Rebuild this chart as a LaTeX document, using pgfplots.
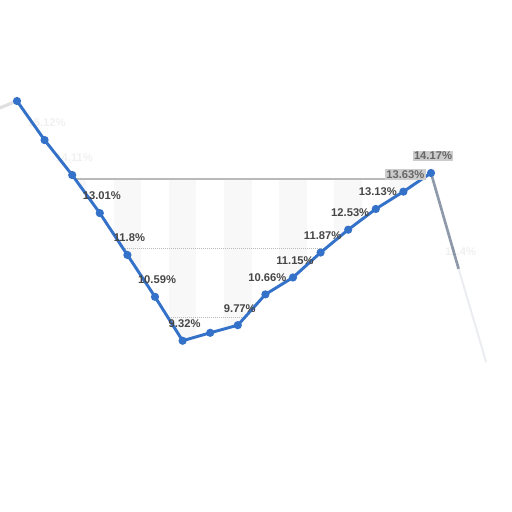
\documentclass[border=0pt]{standalone}
\usepackage{pgfplots}
\pgfplotsset{compat=1.18}
\usepackage{fontspec}
\setmainfont{Liberation Sans}
\definecolor{lineblue}{RGB}{52,113,201}
\definecolor{labelgray}{RGB}{70,70,70}
\definecolor{stripe}{RGB}{248,248,248}
\definecolor{gridgray}{RGB}{185,185,185}
\definecolor{fadeline}{RGB}{95,110,135}
\begin{document}
\begin{tikzpicture}
\begin{axis}[
        name=ax,
        scale only axis,
        width=384pt,
        height=384pt,
        xmin=-0.616, xmax=17.935,
        ymin=4.37, ymax=19.17,
        axis lines=none,
        xtick=\empty, ytick=\empty,
        every node near coord/.append style={
            font=\fontsize{8.4}{9}\selectfont\bfseries,
            text=labelgray, anchor=center,
            xshift=1.5pt, yshift=12.75pt, inner sep=1pt}
    ]
    % light stripes behind the curve
    \addplot[fill=stripe, draw=none] coordinates {(1.5,4)(2.5,4)(2.5,14)(1.5,14)} -- cycle;
    \addplot[fill=stripe, draw=none] coordinates {(3.5,4)(4.5,4)(4.5,14)(3.5,14)} -- cycle;
    \addplot[fill=stripe, draw=none] coordinates {(5.5,4)(6.5,4)(6.5,14)(5.5,14)} -- cycle;
    \addplot[fill=stripe, draw=none] coordinates {(7.5,4)(8.5,4)(8.5,14)(7.5,14)} -- cycle;
    \addplot[fill=stripe, draw=none] coordinates {(9.5,4)(10.5,4)(10.5,14)(9.5,14)} -- cycle;
    \addplot[fill=stripe, draw=none] coordinates {(11.5,4)(12.5,4)(12.5,14)(11.5,14)} -- cycle;
    \addplot[fill=stripe, draw=none] coordinates {(13.5,4)(14.5,4)(14.5,14)(13.5,14)} -- cycle;
    % grid lines
    \addplot[gridgray, densely dotted, line width=0.5pt] coordinates {(0,10)(16,10)};
    \addplot[gridgray, densely dotted, line width=0.5pt] coordinates {(0,12)(16,12)};
    \addplot[gridgray, line width=1pt] coordinates {(0,14)(16,14)};
    % white under the curve and right of the peak
    \addplot[fill=white, draw=none] coordinates {
        (-1,15.93) (0,16.25) (1,15.12) (2,14.11) (3,13.01) (4,11.8) (5,10.59)
        (6,9.32) (7,9.55) (8,9.77) (9,10.66) (10,11.15) (11,11.87) (12,12.53)
        (13,13.13) (14,13.63) (15,14.17) (16,11.4) (17,8.7) (17,3) (-1,3)} -- cycle;
    \addplot[fill=white, draw=none] coordinates {(15,3)(19,3)(19,20)(15,20)} -- cycle;
    % faded ends
    \addplot[black!12, line width=2.4pt] coordinates {(-1,15.93) (0,16.25)};
    \addplot[fadeline, line width=2pt, opacity=0.7] coordinates {(15,14.17) (16,11.4)};
    \addplot[fadeline, line width=1.5pt, opacity=0.12] coordinates {(16,11.4) (17,8.7)};
    % main series
    \addplot[lineblue, line width=2.2pt, mark=*, mark size=1.9pt,
        mark options={fill=lineblue, draw=lineblue}] coordinates {
        (0,16.25) (1,15.12) (2,14.11) (3,13.01) (4,11.8) (5,10.59)
        (6,9.32) (7,9.55) (8,9.77) (9,10.66) (10,11.15) (11,11.87) (12,12.53)
        (13,13.13) (14,13.63) (15,14.17)};
    % labels
    \addplot[draw=none, point meta=explicit symbolic, nodes near coords] coordinates {
        (3,13.01) [13.01\%] (4,11.8) [11.8\%] (5,10.59) [10.59\%] (6,9.32) [9.32\%]
        (8,9.77) [9.77\%] (9,10.66) [10.66\%] (10,11.15) [11.15\%]
        (11,11.87) [11.87\%] (12,12.53) [12.53\%] (13,13.13) [13.13\%]};
    \addplot[draw=none, point meta=explicit symbolic, nodes near coords,
        every node near coord/.append style={fill=black!20, text=black!60}] coordinates {
        (14,13.63) [13.63\%] (15,14.17) [14.17\%]};
    \addplot[draw=none, point meta=explicit symbolic, nodes near coords,
        every node near coord/.append style={opacity=0.08}] coordinates {
        (1,15.12) [15.12\%] (2,14.11) [14.11\%] (16,11.4) [11.4\%]};
\end{axis}
\pgfresetboundingbox
\path (ax.south west) rectangle (ax.north east);
\end{tikzpicture}
\end{document}
